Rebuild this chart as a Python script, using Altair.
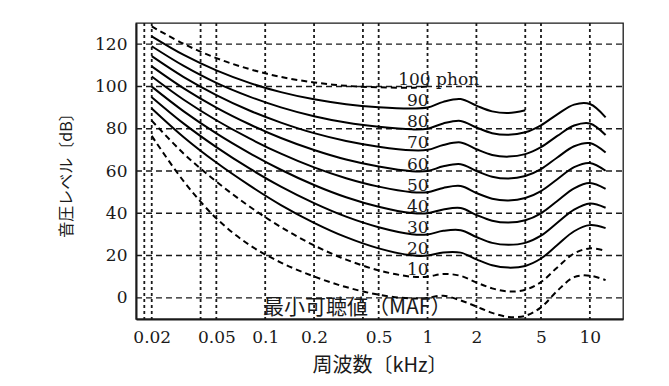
import altair as alt
import pandas as pd

# ---- data ----
FREQ_KHZ = [0.02, 0.0315, 0.05, 0.08, 0.125, 0.2, 0.315, 0.5, 0.8, 1.0,
            1.25, 1.6, 2.0, 2.5, 3.15, 4.0, 5.0, 6.3, 8.0, 10.0, 12.5]

SPL_MAF = [76.6, 55.1, 37.6, 25.0, 16.7, 10.1, 5.1, 1.5, -0.3, 0.0,
           1.0, -1.2, -4.1, -7.1, -9.0, -8.5, -4.5, 3.3, 9.8, 10.5, 8.4]
SPL_10 = [83.8, 68.2, 55.0, 43.2, 33.5, 24.8, 18.1, 13.0, 10.0, 10.0,
          11.3, 10.4, 7.3, 4.5, 3.0, 3.8, 7.5, 14.4, 21.0, 23.4, 22.3]
SPL_20 = [89.6, 76.0, 64.0, 53.2, 43.9, 35.5, 28.7, 23.4, 20.1, 20.0,
          21.5, 21.4, 18.2, 15.4, 14.3, 15.1, 18.6, 25.0, 31.5, 34.4, 33.0]
SPL_30 = [94.9, 82.4, 71.3, 61.2, 52.6, 44.8, 38.4, 33.4, 30.1, 30.0,
          31.7, 32.0, 28.8, 26.0, 25.1, 26.0, 29.4, 35.5, 41.7, 44.6, 42.6]
SPL_40 = [99.9, 88.2, 77.8, 68.5, 60.6, 53.4, 47.6, 43.1, 40.1, 40.0,
          41.8, 42.5, 39.2, 36.5, 35.6, 36.7, 40.0, 45.8, 51.8, 54.3, 51.5]
SPL_50 = [104.7, 93.7, 84.0, 75.4, 68.2, 61.7, 56.6, 52.6, 50.0, 50.0,
          52.0, 52.9, 49.6, 46.9, 46.1, 47.2, 50.5, 56.1, 61.8, 63.8, 60.1]
SPL_60 = [109.5, 99.1, 90.0, 82.1, 75.6, 69.9, 65.4, 62.1, 59.9, 60.0,
          62.2, 63.2, 60.0, 57.3, 56.4, 57.6, 60.9, 66.4, 71.7, 73.2, 68.7]
SPL_70 = [114.3, 104.4, 95.9, 88.6, 82.9, 77.9, 74.2, 71.5, 69.8, 70.0,
          72.3, 73.5, 70.3, 67.6, 66.8, 68.0, 71.3, 76.6, 81.5, 82.5, 77.0]
SPL_80 = [119.0, 109.7, 101.7, 95.2, 90.1, 85.9, 82.9, 80.9, 79.7, 80.0,
          82.5, 83.7, 80.6, 77.9, 77.1, 78.3, 81.6, 86.8, 91.4, 91.7, 85.4]
SPL_90 = [123.7, 114.9, 107.6, 101.7, 97.3, 93.9, 91.6, 90.2, 89.6, 90.0,
          92.7, 94.0, 90.9, 88.2, 87.4, 88.7]
SPL_100 = [128.4, 120.1, 113.4, 108.2, 104.5, 101.9, 100.3, 99.6, 99.4, 100.0]

CURVES = [
    ("MAF", SPL_MAF, "dashed"), ("10", SPL_10, "dashed"),
    ("20", SPL_20, "solid"), ("30", SPL_30, "solid"), ("40", SPL_40, "solid"),
    ("50", SPL_50, "solid"), ("60", SPL_60, "solid"), ("70", SPL_70, "solid"),
    ("80", SPL_80, "solid"), ("90", SPL_90, "solid"), ("100", SPL_100, "dashed"),
]

X_TICKS = [0.02, 0.05, 0.1, 0.2, 0.5, 1, 2, 5, 10]
Y_TICKS = [0, 20, 40, 60, 80, 100, 120]
GRID_FREQ = [0.018, 0.02, 0.04, 0.05, 0.1, 0.2, 0.4, 0.5, 1, 2, 4, 5, 10]

LABEL_TEXT = ["90", "80", "70", "60", "50", "40", "30", "20", "10"]
LABEL_SPL = [90, 80, 70, 60, 50, 40, 30, 20, 10]
LABEL_FREQ = 1.0
TOP_LABEL = "100 phon"
TOP_LABEL_FREQ = 0.66
TOP_LABEL_SPL = 100
MAF_LABEL = "最小可聴値（MAF）"
MAF_LABEL_FREQ = 0.097
MAF_LABEL_SPL = -5

# ---- tables ----
rows = []
for name, vals, style in CURVES:
    for f, v in zip(FREQ_KHZ, vals):
        rows.append({"curve": name, "freq": f, "spl": v, "style": style})
curves_df = pd.DataFrame(rows)
grid_x_df = pd.DataFrame({"freq": GRID_FREQ})
grid_y_df = pd.DataFrame({"spl": Y_TICKS})
labels_df = pd.DataFrame({"freq": [LABEL_FREQ] * len(LABEL_TEXT), "spl": LABEL_SPL, "label": LABEL_TEXT})
top_df = pd.DataFrame({"freq": [TOP_LABEL_FREQ], "spl": [TOP_LABEL_SPL], "label": [TOP_LABEL]})
maf_df = pd.DataFrame({"freq": [MAF_LABEL_FREQ], "spl": [MAF_LABEL_SPL], "label": [MAF_LABEL]})

W, H = 487, 296
INK = "#1a1a1a"

xscale = alt.Scale(type="log", domain=[0.016, 16])
yscale = alt.Scale(domain=[-10, 130])
xaxis = alt.Axis(values=X_TICKS, format="~g", title="周波数〔kHz〕", grid=False, ticks=False,
                 domainColor=INK, domainWidth=2, labelFont="DejaVu Serif", labelFontSize=17,
                 labelColor=INK, labelPadding=10, labelOverlap=False, labelFlush=False,
                 titleFont="Noto Sans CJK JP", titleFontSize=20, titleFontWeight="normal",
                 titleColor=INK, titlePadding=10)
yaxis = alt.Axis(values=Y_TICKS, title="音圧レベル〔dB〕", grid=False, ticks=False,
                 domainColor=INK, domainWidth=2, labelFont="DejaVu Serif", labelFontSize=17,
                 labelColor=INK, labelPadding=9, labelOverlap=False,
                 titleFont="Noto Sans CJK JP", titleFontSize=16, titleFontWeight="normal",
                 titleColor=INK, titlePadding=20)

def X():
    return alt.X("freq:Q", scale=xscale, axis=xaxis)

def Y():
    return alt.Y("spl:Q", scale=yscale, axis=yaxis)

vgrid = alt.Chart(grid_x_df).mark_rule(strokeDash=[3, 3], strokeWidth=1.8, color=INK).encode(
    x=X(), y=alt.value(0), y2=alt.value(H))
hgrid = alt.Chart(grid_y_df).mark_rule(strokeDash=[6, 4], strokeWidth=1.4, color=INK).encode(
    y=Y(), x=alt.value(0), x2=alt.value(W))

solid = alt.Chart(curves_df).transform_filter(alt.datum.style == "solid").mark_line(
    interpolate="catmull-rom", strokeWidth=2, color="black").encode(x=X(), y=Y(), detail="curve:N")
dashed = alt.Chart(curves_df).transform_filter(alt.datum.style == "dashed").mark_line(
    interpolate="catmull-rom", strokeWidth=2, color="black", strokeDash=[6, 4]).encode(
    x=X(), y=Y(), detail="curve:N")

labels = alt.Chart(labels_df).mark_text(align="right", baseline="alphabetic", dx=1, dy=-1.5,
                                        font="DejaVu Serif", fontSize=17, color=INK).encode(
    x=X(), y=Y(), text="label:N")
top_label = alt.Chart(top_df).mark_text(align="left", baseline="alphabetic", dy=-1.5,
                                        font="DejaVu Serif", fontSize=17, color=INK).encode(
    x=X(), y=Y(), text="label:N")
maf_label = alt.Chart(maf_df).mark_text(align="left", baseline="middle",
                                        font="Noto Sans CJK JP", fontSize=21, color=INK).encode(
    x=X(), y=Y(), text="label:N")

chart = alt.layer(vgrid, hgrid, solid, dashed, labels, top_label, maf_label).properties(
    width=W, height=H,
    autosize=alt.AutoSizeParams(type="none"),
    padding={"left": 128, "top": 15, "right": 26, "bottom": 62},
    background="white",
).configure_view(stroke=INK, strokeWidth=1.3)

chart.save("out.html", embed_options={"renderer": "svg", "actions": False})
